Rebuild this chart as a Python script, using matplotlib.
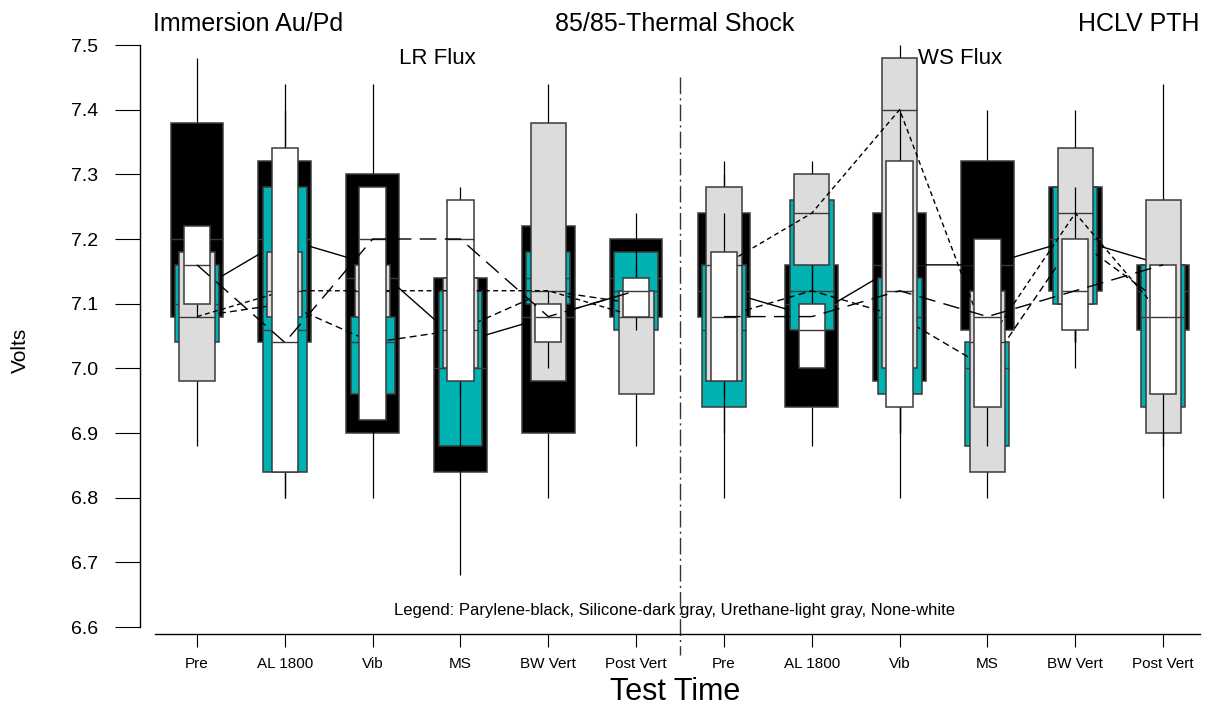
import numpy as np
import matplotlib
matplotlib.use("Agg")
import matplotlib.pyplot as plt

plt.rcParams['font.family'] = ['Liberation Sans', 'DejaVu Sans']

# test times (LR flux groups then WS flux groups)
groups = ['Pre', 'AL 1800', 'Vib', 'MS', 'BW Vert', 'Post Vert',
          'Pre', 'AL 1800', 'Vib', 'MS', 'BW Vert', 'Post Vert']

# box stats per group: whisker low, q1, median, q3, whisker high
parylene_lo  = [7.04, 6.90, 6.80, 6.68, 6.80, 7.00, 6.96, 6.88, 6.90, 6.96, 7.04, 7.00]
parylene_q1  = [7.08, 7.04, 6.90, 6.84, 6.90, 7.08, 7.08, 6.94, 6.98, 7.06, 7.12, 7.06]
parylene_med = [7.20, 7.20, 7.14, 7.00, 7.08, 7.14, 7.12, 7.10, 7.16, 7.16, 7.20, 7.12]
parylene_q3  = [7.38, 7.32, 7.30, 7.14, 7.22, 7.20, 7.24, 7.16, 7.24, 7.32, 7.28, 7.16]
parylene_hi  = [7.48, 7.40, 7.44, 7.20, 7.30, 7.24, 7.30, 7.20, 7.30, 7.40, 7.34, 7.18]

silicone_lo  = [7.00, 6.80, 6.90, 6.84, 7.06, 7.02, 6.90, 7.00, 6.90, 6.84, 7.04, 6.90]
silicone_q1  = [7.04, 6.84, 6.96, 6.88, 7.10, 7.06, 6.94, 7.06, 6.96, 6.88, 7.10, 6.94]
silicone_med = [7.10, 7.06, 7.04, 7.00, 7.14, 7.12, 7.06, 7.12, 7.08, 7.00, 7.20, 7.08]
silicone_q3  = [7.16, 7.28, 7.08, 7.12, 7.18, 7.18, 7.16, 7.26, 7.14, 7.04, 7.28, 7.16]
silicone_hi  = [7.20, 7.32, 7.12, 7.14, 7.20, 7.20, 7.20, 7.28, 7.18, 7.06, 7.30, 7.18]

urethane_lo  = [6.88, 7.04, 7.04, 6.96, 6.96, 6.88, 6.80, 7.12, 6.94, 6.80, 7.04, 6.80]
urethane_q1  = [6.98, 7.08, 7.08, 7.00, 6.98, 6.96, 6.98, 7.16, 7.00, 6.84, 7.10, 6.90]
urethane_med = [7.08, 7.12, 7.12, 7.06, 7.12, 7.08, 7.16, 7.24, 7.40, 7.04, 7.24, 7.08]
urethane_q3  = [7.18, 7.18, 7.16, 7.14, 7.38, 7.12, 7.28, 7.30, 7.48, 7.12, 7.34, 7.26]
urethane_hi  = [7.22, 7.24, 7.20, 7.16, 7.44, 7.16, 7.32, 7.32, 7.50, 7.16, 7.40, 7.44]

none_lo  = [7.08, 6.80, 6.90, 6.88, 7.00, 7.06, 6.96, 6.98, 6.80, 6.88, 7.00, 6.88]
none_q1  = [7.10, 6.84, 6.92, 6.98, 7.04, 7.08, 6.98, 7.00, 6.94, 6.94, 7.06, 6.96]
none_med = [7.16, 7.04, 7.20, 7.20, 7.08, 7.12, 7.08, 7.06, 7.12, 7.08, 7.12, 7.08]
none_q3  = [7.22, 7.34, 7.28, 7.26, 7.10, 7.14, 7.18, 7.10, 7.32, 7.20, 7.20, 7.16]
none_hi  = [7.22, 7.44, 7.30, 7.28, 7.12, 7.20, 7.24, 7.16, 7.40, 7.24, 7.28, 7.16]

# connecting lines (per series, LR part and WS part)
parylene_line = [7.12, 7.20, 7.16, 7.04, 7.08, 7.12, 7.12, 7.08, 7.16, 7.16, 7.20, 7.16]
silicone_line = [7.08, 7.10, 7.04, 7.06, 7.12, 7.10, 7.08, 7.12, 7.08, 7.00, 7.20, 7.10]
urethane_line = [7.08, 7.12, 7.12, 7.12, 7.12, 7.08, 7.16, 7.24, 7.40, 7.04, 7.24, 7.08]
none_line     = [7.16, 7.04, 7.20, 7.20, 7.08, 7.12, 7.08, 7.08, 7.12, 7.08, 7.12, 7.16]

series = [
    # name, lo, q1, med, q3, hi, line, fill, width, dashes
    ('Parylene', parylene_lo, parylene_q1, parylene_med, parylene_q3, parylene_hi,
     parylene_line, '#000000', 0.60, None),
    ('Silicone', silicone_lo, silicone_q1, silicone_med, silicone_q3, silicone_hi,
     silicone_line, '#00b2b2', 0.50, (5, 3)),
    ('Urethane', urethane_lo, urethane_q1, urethane_med, urethane_q3, urethane_hi,
     urethane_line, '#dcdcdc', 0.40, (3.5, 2.5)),
    ('None', none_lo, none_q1, none_med, none_q3, none_hi,
     none_line, '#ffffff', 0.30, (12, 6)),
]

W, H = 1206, 712
fig = plt.figure(figsize=(W / 100, H / 100), dpi=100)
ax = fig.add_axes([140 / W, 1 - 627 / H, (1200 - 140) / W, (627 - 45) / H])

x = np.arange(len(groups))
edge = '#3a3a3a'
for k, (name, lo, q1, med, q3, hi, line, fill, wd, dashes) in enumerate(series):
    z = 2 + k
    lo, q1, med, q3, hi = map(np.array, (lo, q1, med, q3, hi))
    ax.vlines(x, q3, hi, color='black', lw=0.9, zorder=z)
    ax.vlines(x, lo, q1, color='black', lw=0.9, zorder=z)
    ax.bar(x, q3 - q1, bottom=q1, width=wd, color=fill, edgecolor=edge,
           linewidth=1.1, zorder=z)
    ax.hlines(med, x - wd / 2, x + wd / 2, color=edge, lw=1.0, zorder=z + 0.1)
    for part in (slice(0, 6), slice(6, 12)):
        ln, = ax.plot(x[part], np.array(line)[part], color='black', lw=1.0,
                      zorder=z + 0.5)
        if dashes:
            ln.set_dashes(dashes)

# divider between LR and WS flux
ax.plot([5.5, 5.5], [7.45, 6.557], color='#333333', lw=1.0,
        dashes=(12, 3, 1.5, 3), clip_on=False, zorder=1)

ax.set_xlim(-0.649, 11.42)
ax.set_ylim(6.6, 7.5)
ax.set_yticks(np.arange(6.6, 7.51, 0.1))
ax.set_yticklabels(['%.1f' % v for v in np.arange(6.6, 7.51, 0.1)])
ax.set_xticks(x)
ax.set_xticklabels(groups)

for s in ('top', 'right'):
    ax.spines[s].set_visible(False)
ax.spines['bottom'].set_position(('outward', 5))
ax.spines['bottom'].set_bounds(-0.478, 11.42)
ax.spines['left'].set_linewidth(1.0)
ax.spines['bottom'].set_linewidth(1.0)
ax.tick_params(axis='y', direction='out', length=18, width=0.8, pad=12, labelsize=14)
ax.tick_params(axis='x', direction='out', length=9.5, width=0.8, pad=7, labelsize=11)

def ftext(px, py, s, **kw):
    fig.text(px / W, 1 - py / H, s, **kw)

ftext(153, 24, 'Immersion Au/Pd', fontsize=18, ha='left', va='center')
ftext(675, 24, '85/85-Thermal Shock', fontsize=18, ha='center', va='center')
ftext(1200, 24, 'HCLV PTH', fontsize=18, ha='right', va='center')
ftext(437, 58, 'LR Flux', fontsize=16, ha='center', va='center')
ftext(960, 58, 'WS Flux', fontsize=16, ha='center', va='center')
ftext(675, 611, 'Legend: Parylene-black, Silicone-dark gray, Urethane-light gray, None-white',
      fontsize=12, ha='center', va='center')
ftext(675, 692, 'Test Time', fontsize=22, ha='center', va='center')
ftext(20, 350, 'Volts', fontsize=15, ha='center', va='center', rotation=90)

fig.savefig('out.png', dpi=100)
